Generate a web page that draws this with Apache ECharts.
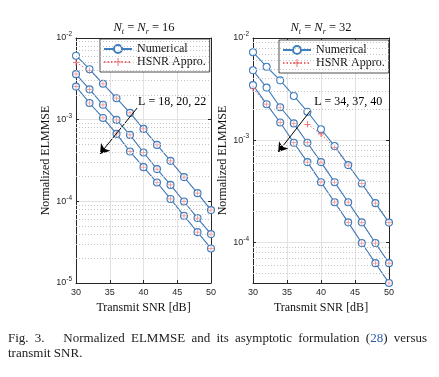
<!DOCTYPE html>
<html lang="en">
<head>
<meta charset="UTF-8">
<title>Normalized ELMMSE vs transmit SNR</title>
<script src="https://cdn.jsdelivr.net/npm/echarts@6/dist/echarts.min.js"></script>
<style>
    *{margin:0;padding:0;}
    body{width:439px;height:377px;overflow:hidden;background:#fff;position:relative;}
    #chart{position:absolute;left:0;top:0;width:439px;height:377px;}
    .cap{position:absolute;left:8px;width:419px;font:13px/14px 'Liberation Serif',serif;color:#222;}
    .cap1{top:331px;text-align:justify;text-align-last:justify;}
    .cap2{top:345.5px;}
    .ref{color:#2a5db0;}
</style>
</head>
<body>
<div id="chart"></div>
<div class="cap cap1">Fig. 3.&nbsp;&nbsp; Normalized ELMMSE and its asymptotic formulation (<span class="ref">28</span>) versus</div>
<div class="cap cap2">transmit SNR.</div>
<script>
    // transmit SNR in dB, shared by every curve
    const snrDb = [30, 32, 34, 36, 38, 40, 42, 44, 46, 48, 50];

    // Nt = Nr = 16
    const numL18 = [6.07e-3, 4.15e-3, 2.75e-3, 1.83e-3, 1.21e-3, 7.71e-4, 4.91e-4, 3.13e-4, 1.98e-4, 1.26e-4, 7.81e-5];
    const apxL18 = [5.02e-3, 4.00e-3, 2.75e-3, 1.83e-3, 1.21e-3, 7.71e-4, 4.91e-4, 3.13e-4, 1.98e-4, 1.26e-4, 7.81e-5];
    const numL20 = [3.61e-3, 2.35e-3, 1.52e-3, 9.94e-4, 6.51e-4, 3.96e-4, 2.48e-4, 1.59e-4, 9.96e-5, 6.24e-5, 3.97e-5];
    const apxL20 = [3.61e-3, 2.35e-3, 1.52e-3, 9.94e-4, 6.51e-4, 3.96e-4, 2.48e-4, 1.59e-4, 9.96e-5, 6.24e-5, 3.97e-5];
    const numL22 = [2.54e-3, 1.60e-3, 1.05e-3, 6.70e-4, 4.07e-4, 2.62e-4, 1.70e-4, 1.07e-4, 6.65e-5, 4.20e-5, 2.65e-5];
    const apxL22 = [2.54e-3, 1.60e-3, 1.05e-3, 6.70e-4, 4.07e-4, 2.62e-4, 1.70e-4, 1.07e-4, 6.65e-5, 4.20e-5, 2.65e-5];

    // Nt = Nr = 32 (approximation not plotted at the lowest SNRs)
    const numL34 = [7.26e-3, 5.23e-3, 3.85e-3, 2.71e-3, 1.90e-3, 1.28e-3, 8.76e-4, 5.70e-4, 3.77e-4, 2.42e-4, 1.56e-4];
    const apxL34 = [null, null, null, null, 1.43e-3, 1.15e-3, 8.47e-4, 5.70e-4, 3.77e-4, 2.42e-4, 1.56e-4];
    const numL37 = [4.83e-3, 3.27e-3, 2.10e-3, 1.46e-3, 9.44e-4, 6.10e-4, 3.88e-4, 2.47e-4, 1.57e-4, 9.84e-5, 6.26e-5];
    const apxL37 = [null, null, 2.10e-3, 1.46e-3, 9.44e-4, 6.10e-4, 3.88e-4, 2.47e-4, 1.57e-4, 9.84e-5, 6.26e-5];
    const numL40 = [3.46e-3, 2.25e-3, 1.49e-3, 9.44e-4, 6.10e-4, 3.88e-4, 2.47e-4, 1.57e-4, 9.84e-5, 6.26e-5, 4.00e-5];
    const apxL40 = [3.20e-3, 2.25e-3, 1.49e-3, 9.44e-4, 6.10e-4, 3.88e-4, 2.47e-4, 1.57e-4, 9.84e-5, 6.26e-5, 4.00e-5];

    const legendNames = ['Numerical', 'HSNR Appro.'];
    const minorSteps = [2, 3, 4, 5, 6, 7, 8, 9];

    const SERIF = "'Liberation Serif', 'Times New Roman', serif";
    const SANS = "'Liberation Sans', Arial, sans-serif";
    const BLUE = '#3f7fbf';
    const RED = '#ee6a6a';
    const AXIS = '#262626';
    const plusPath = 'path://M4.4,0H5.6V4.4H10V5.6H5.6V10H4.4V5.6H0V4.4H4.4Z';

    let chart = echarts.init(document.getElementById('chart'));

    const pts = vals => snrDb.map((x, i) => [x, vals[i]]).filter(p => p[1] != null);

    // dotted minor grid at 2..9 x 10^k inside [lo, hi], drawn from x=30 to x=50
    function minorLines(lo, hi) {
        let out = [];
        for (let d = 1e-6; d < hi; d *= 10) {
            minorSteps.forEach(s => {
                let v = s * d;
                if (v > lo * 1.0001 && v < hi) out.push([{coord: [30, v]}, {coord: [50, v]}]);
            });
        }
        return out;
    }

    function powLabel(v) {
        let lg = Math.log10(v);
        let e = Math.round(lg);
        if (Math.abs(lg - e) > 1e-6) return '';
        return '{b|10}{s|' + e + '}';
    }

    function xAxes(g) {
        let common = {
            type: 'value', gridIndex: g, min: 30, max: 50, interval: 5,
            axisLine: {show: true, onZero: false, lineStyle: {color: AXIS, width: 1}},
            axisTick: {show: true, inside: true, length: 3, lineStyle: {color: AXIS}}
        };
        return [
            Object.assign({}, common, {
                position: 'bottom',
                name: 'Transmit SNR [dB]', nameLocation: 'middle', nameGap: 15,
                nameTextStyle: {fontFamily: SERIF, fontSize: 12, color: '#111'},
                axisLabel: {fontFamily: SANS, fontSize: 9, color: AXIS, margin: 5},
                splitLine: {show: true, lineStyle: {color: '#e2e2e2', width: 1}}
            }),
            Object.assign({}, common, {
                position: 'top', axisLabel: {show: false}, splitLine: {show: false}
            })
        ];
    }

    function yAxes(g, lo) {
        let common = {
            type: 'log', logBase: 10, gridIndex: g, min: lo, max: 1e-2,
            axisLine: {show: true, onZero: false, lineStyle: {color: AXIS, width: 1}},
            axisTick: {show: true, inside: true, length: 3, lineStyle: {color: AXIS}}
        };
        return [
            Object.assign({}, common, {
                position: 'left',
                name: 'Normalized ELMMSE', nameLocation: 'middle', nameGap: 23,
                nameTextStyle: {fontFamily: SERIF, fontSize: 12, color: '#111'},
                axisLabel: {
                    margin: 4, formatter: powLabel,
                    rich: {
                        b: {fontFamily: SANS, fontSize: 9, color: AXIS, lineHeight: 14},
                        s: {fontFamily: SANS, fontSize: 6.5, color: AXIS, lineHeight: 8, verticalAlign: 'top'}
                    }
                },
                splitLine: {show: true, lineStyle: {color: '#e2e2e2', width: 1}}
            }),
            Object.assign({}, common, {
                position: 'right', axisLabel: {show: false}, splitLine: {show: false}
            })
        ];
    }

    function curve(ax, num, apx, extraNum, extraApx) {
        let base = {xAxisIndex: ax, yAxisIndex: ax, silent: true};
        return [
            Object.assign({}, base, {
                type: 'line', name: 'HSNR Appro.', data: pts(apx), z: 1,
                symbol: plusPath, symbolSize: 6, showAllSymbol: true,
                itemStyle: {color: RED},
                lineStyle: {color: RED, width: 1, type: [1.5, 2]}
            }, extraApx || {}),
            Object.assign({}, base, {
                type: 'line', name: 'Numerical', data: pts(num), z: 2,
                symbol: 'circle', symbolSize: 7, showAllSymbol: true,
                itemStyle: {color: '#fff', borderColor: BLUE, borderWidth: 1.1},
                lineStyle: {color: BLUE, width: 1.1}
            }, extraNum || {}),
            Object.assign({}, base, {
                type: 'scatter', name: 'HSNR Appro.', data: pts(apx), z: 3,
                symbol: plusPath, symbolSize: 6, itemStyle: {color: RED}
            })
        ];
    }

    function arrow(from, to) {
        return {
            silent: true, symbol: ['none', 'arrow'], symbolSize: 9,
            itemStyle: {color: '#000'},
            lineStyle: {color: '#000', width: 1, type: 'solid'},
            label: {show: false}, emphasis: {disabled: true},
            data: [[{coord: from}, {coord: to}]]
        };
    }

    function note(at, text) {
        return {
            silent: true, symbol: 'circle', symbolSize: 0,
            itemStyle: {color: 'transparent'},
            label: {show: true, position: 'right', distance: 0, formatter: text,
                fontFamily: SERIF, fontSize: 12, color: '#000'},
            data: [{coord: at}]
        };
    }

    function gridLines(lo, hi) {
        return {
            silent: true, symbol: ['none', 'none'],
            lineStyle: {color: '#c4c4c4', width: 1, type: [1, 2]},
            label: {show: false}, emphasis: {disabled: true},
            data: minorLines(lo, hi)
        };
    }

    function title(x, n) {
        let t = {fontFamily: SERIF, fontWeight: 'normal', color: '#111'};
        return {
            text: '{i|N}{sub|t}{n| = }{i|N}{sub|r}{n| = ' + n + '}',
            left: x, top: 20, textAlign: 'center', padding: 0,
            textStyle: {
                fontWeight: 'normal',
                rich: {
                    i: Object.assign({fontStyle: 'italic', fontSize: 12.5, lineHeight: 16}, t),
                    n: Object.assign({fontSize: 12.5, lineHeight: 16}, t),
                    sub: Object.assign({fontStyle: 'italic', fontSize: 8, lineHeight: 8, verticalAlign: 'bottom'}, t)
                }
            }
        };
    }

    function legend(x, y) {
        return {
            data: legendNames, orient: 'vertical', left: x, top: y,
            padding: [4, 4, 4, 3], itemGap: 1, itemWidth: 28, itemHeight: 10,
            backgroundColor: '#fff', borderColor: '#222', borderWidth: 0.8, borderRadius: 0,
            selectedMode: false,
            textStyle: {fontFamily: SERIF, fontSize: 12, lineHeight: 12, color: '#111'}
        };
    }

    let series = [].concat(
        curve(0, numL18, apxL18, {markLine: arrow([39.06, 1.39e-3], [33.56, 3.81e-4]), markPoint: note([39.2, 1.65e-3], 'L = 18, 20, 22')}),
        curve(0, numL20, apxL20),
        curve(0, numL22, apxL22, null, {markLine: gridLines(1e-5, 1e-2)}),
        curve(2, numL34, apxL34, {markLine: arrow([38.41, 1.93e-3], [33.71, 7.66e-4]), markPoint: note([39.0, 2.37e-3], 'L = 34, 37, 40')}),
        curve(2, numL37, apxL37),
        curve(2, numL40, apxL40, null, {markLine: gridLines(4e-5, 1e-2)})
    );

    let options = {
        animation: false,
        backgroundColor: '#fff',
        title: [title(144, 16), title(321, 32)],
        legend: [legend(100, 39), legend(279, 40)],
        grid: [
            {left: 76, top: 38, width: 135, height: 245, containLabel: false},
            {left: 253, top: 38, width: 136, height: 245, containLabel: false}
        ],
        xAxis: xAxes(0).concat(xAxes(1)),
        yAxis: yAxes(0, 1e-5).concat(yAxes(1, 4e-5)),
        series
    };

    chart.setOption(options);
</script>
</body>
</html>
